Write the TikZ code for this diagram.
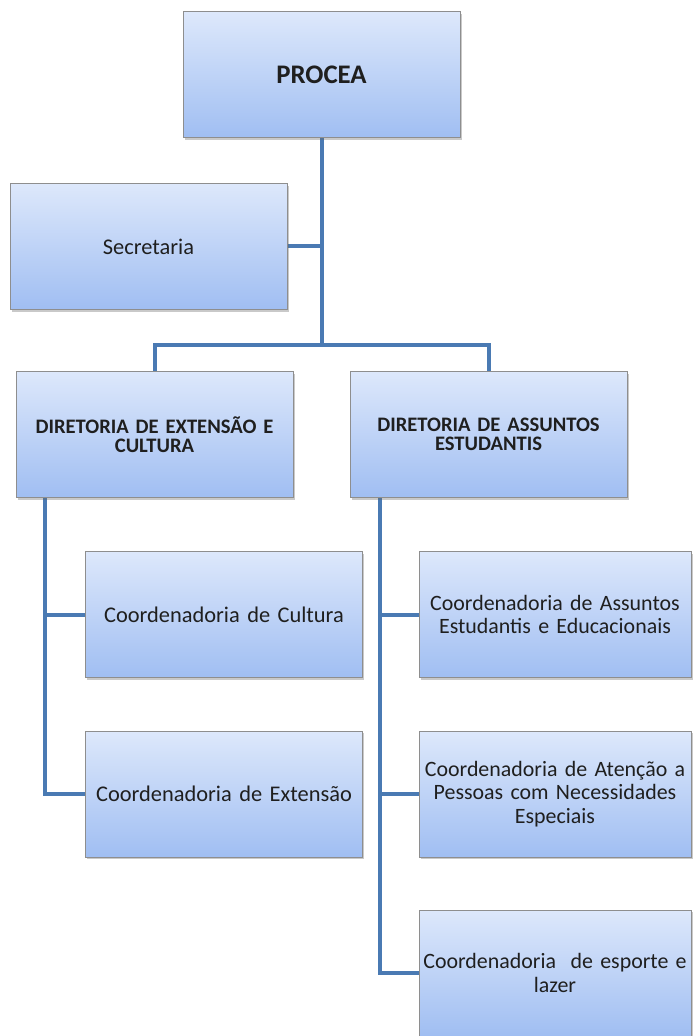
\documentclass[tikz,border=0pt]{standalone}
\usepackage{fontspec}
\setmainfont{Carlito}
\usetikzlibrary{shadows,backgrounds}
\definecolor{linecol}{HTML}{4A7AB3}
\definecolor{boxtop}{HTML}{DDE8FB}
\definecolor{boxbot}{HTML}{A0BEF2}
\definecolor{boxborder}{HTML}{8E8E8E}
\tikzset{
  orgbox/.style={draw=boxborder, line width=0.5pt, top color=boxtop, bottom color=boxbot,
    rectangle, inner xsep=-0.75pt, inner ysep=3pt, align=center, text=black!88,
    drop shadow={shadow xshift=0.8pt, shadow yshift=-1.2pt, opacity=0.35, fill=black!60},
    minimum width=138.5pt, minimum height=63pt, text width=140pt},
  narrowbox/.style={orgbox, inner xsep=-2pt, minimum width=136pt, text width=140pt},
  conn/.style={draw=linecol, line width=2pt, line join=miter},
  regtext/.style={font=\fontsize{11.2}{11.9}\selectfont},
  regtextn/.style={font=\fontsize{10.95}{11.9}\selectfont},
  boldtext/.style={font=\bfseries\fontsize{10.3}{9.3}\selectfont},
}
\begin{document}
\begin{tikzpicture}[x=0.5pt,y=-0.5pt]
\useasboundingbox (0,0) rectangle (693,1036);
\clip (0,0) rectangle (693,1036);
\node[orgbox, font=\bfseries\fontsize{13.4}{15}\selectfont] (procea) at (321.5,75) {PROCEA};
\node[orgbox, regtext] (sec) at (148.5,246.5) {Secretaria};
\node[orgbox, boldtext] (dext) at (154.5,434.5) {DIRETORIA DE EXTENSÃO E\\CULTURA};
\node[orgbox, boldtext] (dass) at (488.5,434.5) {DIRETORIA DE ASSUNTOS\\ESTUDANTIS};
\node[orgbox, regtext] (ccult) at (224,614.5) {Coordenadoria de Cultura};
\node[orgbox, regtext] (cext) at (224,794) {Coordenadoria de Extensão};
\node[narrowbox, regtextn] (cass) at (555,614.5) {Coordenadoria de Assuntos\\Estudantis e Educacionais};
\node[narrowbox, regtextn] (caten) at (555,794) {Coordenadoria de Atenção a\\Pessoas com Necessidades\\Especiais};
\node[narrowbox, regtextn] (cesp) at (555,973) {Coordenadoria~~de esporte e\\lazer};
\coordinate (split) at (321.5,345);
\coordinate (lbar) at (154.5,345);
\coordinate (rbar) at (488.5,345);
\coordinate (lx) at (45,0);
\coordinate (rx) at (380,0);
\begin{scope}[on background layer]
\fill[white] (0,0) rectangle (693,1036);
\draw[conn] (procea.south) -- (split);
\draw[conn] (sec.east) -- (sec.east -| split);
\draw[conn] (dext.north) -- (lbar) -- (rbar) -- (dass.north);
\draw[conn] (dext.south -| lx) |- (ccult.west);
\draw[conn] (dext.south -| lx) |- (cext.west);
\draw[conn] (dass.south -| rx) |- (cass.west);
\draw[conn] (dass.south -| rx) |- (caten.west);
\draw[conn] (dass.south -| rx) |- (cesp.west);
\end{scope}
\end{tikzpicture}
\end{document}
